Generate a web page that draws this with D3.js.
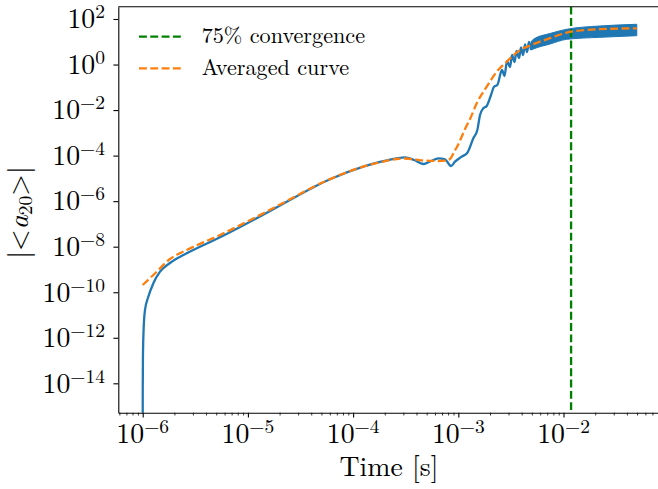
<!DOCTYPE html>
<html>
<head>
<meta charset="utf-8">
<script src="https://cdn.jsdelivr.net/npm/d3@7/dist/d3.min.js"></script>
<style>
  body { margin: 0; background: #fff; }
  svg { display: block; }
</style>
</head>
<body>
<div id="chart"></div>
<script>
// raw signal |<a20>| against time [s]
var blueTime = [1.0e-6, 1.0002e-6, 1.001e-6, 1.005e-6, 1.02e-6, 1.05e-6, 1.13e-6, 1.262e-6, 1.46e-6, 1.817e-6,
  2.62e-6, 5.43e-6, 1.126e-5, 2.02e-5, 6.03e-5, 1.25e-4, 1.80e-4, 2.59e-4, 3.11e-4, 3.79e-4,
  4.65e-4, 5.50e-4, 6.46e-4, 7.48e-4, 8.52e-4, 9.30e-4, 1.077e-3, 1.218e-3, 1.389e-3, 1.516e-3,
  1.608e-3, 1.728e-3, 1.862e-3, 2.045e-3, 2.184e-3, 2.348e-3, 2.602e-3, 2.749e-3, 2.903e-3, 3.100e-3,
  3.240e-3, 3.421e-3, 3.574e-3, 3.776e-3, 3.945e-3, 4.121e-3, 4.305e-3, 4.498e-3, 4.699e-3, 4.909e-3];
var blueAmp = [1e-17, 2.5e-16, 6e-15, 1.4e-13, 2.3e-12, 1.6e-11, 6.3e-11, 2.47e-10, 7.98e-10, 1.92e-9,
  5.13e-9, 2.59e-8, 1.49e-7, 6.45e-7, 9.12e-6, 3.26e-5, 5.25e-5, 7.62e-5, 8.43e-5, 6.43e-5,
  4.28e-5, 5.81e-5, 7.62e-5, 6.89e-5, 3.50e-5, 5.41e-5, 8.97e-5, 1.34e-4, 5.77e-4, 1.33e-3,
  6.08e-3, 1.20e-2, 1.51e-2, 4.59e-2, 0.106, 0.126, 0.575, 0.314, 1.43, 0.78,
  2.62, 1.29, 3.93, 1.94, 5.6, 2.62, 7.59, 3.56, 9.77, 4.35];

// dense oscillation at late times: envelope of the raw signal
var bandTime = [4.909e-3, 5.16e-3, 7.45e-3, 1.07e-2, 2.22e-2, 4.97e-2];
var bandHigh = [9.77, 12.8, 23.1, 35.3, 49.3, 58.5];
var bandLow  = [4.35, 4.81, 7.98, 12.8, 15.7, 18.5];

// averaged curve
var avgTime = [1.0e-6, 1.262e-6, 1.817e-6, 2.62e-6, 5.43e-6, 1.126e-5, 2.02e-5, 6.03e-5, 1.25e-4, 1.80e-4,
  2.59e-4, 3.11e-4, 3.79e-4, 4.65e-4, 6.46e-4, 7.48e-4, 8.34e-4, 9.10e-4, 9.93e-4, 1.084e-3,
  1.183e-3, 1.292e-3, 1.496e-3, 1.862e-3, 2.32e-3, 2.88e-3, 3.86e-3, 4.81e-3, 6.92e-3, 1.18e-2,
  2.07e-2, 4.97e-2];
var avgAmp = [2.08e-10, 5.71e-10, 2.88e-9, 7.16e-9, 3.27e-8, 1.73e-7, 7.13e-7, 9.32e-6, 3.3e-5, 5.07e-5,
  7.11e-5, 7.48e-5, 6.89e-5, 6.11e-5, 5.81e-5, 5.98e-5, 7.11e-5, 1.44e-4, 2.92e-4, 7.28e-4,
  1.81e-3, 4.06e-3, 1.99e-2, 0.106, 0.485, 1.33, 4.35, 6.86, 12.8, 27.7,
  35.3, 39.1];

var convergenceTime = 0.0118;
var xTickExp = [-6, -5, -4, -3, -2, -1];
var yTickExp = [-14, -12, -10, -8, -6, -4, -2, 0, 2];
var legendLabels = ["75% convergence", "Averaged curve"];
var legendColors = ["green", "#ff7f0e"];

var serif = "'Latin Modern Roman', 'Liberation Serif', serif";
var width = 658, height = 489;
var plot = { left: 118.3, right: 662, top: 6.7, bottom: 412.7 };

var svg = d3.select("#chart").append("svg")
  .attr("width", width)
  .attr("height", height)
  .attr("font-family", serif);

var x = d3.scaleLog().domain([5.861e-7, 0.0863]).range([plot.left, plot.right]);
var y = d3.scaleLog().domain([5.12e-16, 346.7]).range([plot.bottom, plot.top]);

svg.append("clipPath").attr("id", "clip")
  .append("rect")
  .attr("x", plot.left).attr("y", plot.top)
  .attr("width", plot.right - plot.left).attr("height", plot.bottom - plot.top);

var g = svg.append("g").attr("clip-path", "url(#clip)");

var blue = "#1f77b4";

// raw curve
var line = d3.line()
  .curve(d3.curveMonotoneX)
  .x(function (d) { return x(d[0]); })
  .y(function (d) { return y(d[1]); });

g.append("path")
  .datum(d3.zip(blueTime, blueAmp))
  .attr("d", line)
  .attr("fill", "none")
  .attr("stroke", blue)
  .attr("stroke-width", 2.3)
  .attr("stroke-linejoin", "round");

var area = d3.area()
  .curve(d3.curveMonotoneX)
  .x(function (d) { return x(d[0]); })
  .y0(function (d) { return y(d[2]); })
  .y1(function (d) { return y(d[1]); });

g.append("path")
  .datum(d3.zip(bandTime, bandHigh, bandLow))
  .attr("d", area)
  .attr("fill", blue)
  .attr("stroke", blue)
  .attr("stroke-width", 1);

// convergence marker
g.append("line")
  .attr("x1", x(convergenceTime)).attr("x2", x(convergenceTime))
  .attr("y1", plot.top).attr("y2", plot.bottom)
  .attr("stroke", "green")
  .attr("stroke-width", 2.3)
  .attr("stroke-dasharray", "7.9,3.4");

// averaged curve
g.append("path")
  .datum(d3.zip(avgTime, avgAmp))
  .attr("d", line)
  .attr("fill", "none")
  .attr("stroke", "#ff7f0e")
  .attr("stroke-width", 2.3)
  .attr("stroke-dasharray", "7.9,3.4");

// axes
var xMajor = xTickExp.map(function (e) { return Math.pow(10, e); });
var xMinor = [];
for (var e = -7; e <= -2; e++) {
  for (var k = 2; k <= 9; k++) xMinor.push(k * Math.pow(10, e));
}
xMinor = xMinor.filter(function (v) { return v >= x.domain()[0] && v <= x.domain()[1]; });

svg.append("g")
  .attr("transform", "translate(0," + plot.bottom + ")")
  .call(d3.axisBottom(x).tickValues(xMinor).tickFormat("").tickSize(2.8).tickSizeOuter(0))
  .call(function (s) { s.select(".domain").remove(); s.selectAll("line").attr("stroke-width", 0.8); });

var xAxis = svg.append("g")
  .attr("transform", "translate(0," + plot.bottom + ")")
  .call(d3.axisBottom(x).tickValues(xMajor).tickFormat("").tickSize(4.9).tickSizeOuter(0));
xAxis.select(".domain").attr("stroke-width", 1.1);
xAxis.selectAll("line").attr("stroke-width", 1.1);

var yAxis = svg.append("g")
  .attr("transform", "translate(" + plot.left + ",0)")
  .call(d3.axisLeft(y).tickValues(yTickExp.map(function (e) { return Math.pow(10, e); }))
    .tickFormat("").tickSize(4.9).tickSizeOuter(0));
yAxis.select(".domain").attr("stroke-width", 1.1);
yAxis.selectAll("line").attr("stroke-width", 1.1);

svg.append("line")
  .attr("x1", plot.left).attr("x2", plot.right)
  .attr("y1", plot.top).attr("y2", plot.top)
  .attr("stroke", "#000").attr("stroke-width", 1.1);

function powerLabel(sel, exp) {
  sel.append("tspan").text("10");
  var s = exp < 0 ? "\u2212" + (-exp) : "" + exp;
  sel.append("tspan")
    .attr("dy", -10)
    .attr("font-size", 19.5)
    .text(s);
}

xTickExp.forEach(function (e) {
  var px = x(Math.pow(10, e));
  if (px > width) return;
  svg.append("text")
    .attr("x", px)
    .attr("y", plot.bottom + 30.6)
    .attr("text-anchor", "middle")
    .attr("font-family", serif)
    .attr("font-size", 27.8)
    .call(powerLabel, e);
});

yTickExp.forEach(function (e) {
  svg.append("text")
    .attr("x", 105)
    .attr("y", y(Math.pow(10, e)) + 9.3)
    .attr("text-anchor", "end")
    .attr("font-family", serif)
    .attr("font-size", 27.8)
    .call(powerLabel, e);
});

// axis titles
svg.append("text")
  .attr("x", 389)
  .attr("y", 476)
  .attr("text-anchor", "middle")
  .attr("font-family", serif)
  .attr("font-size", 27.8)
  .text("Time [s]");

var yl = svg.append("text")
  .attr("transform", "translate(28,212.5) rotate(-90)")
  .attr("text-anchor", "middle")
  .attr("font-family", serif)
  .attr("font-size", 27.8);
yl.append("tspan").text("|<");
yl.append("tspan").attr("font-style", "italic").text("a");
yl.append("tspan").attr("dy", 4.2).attr("font-size", 19.5).text("20");
yl.append("tspan").attr("dy", -4.2).text(">|");

// legend
legendLabels.forEach(function (lab, i) {
  var ly = 36.7 + i * 31.6;
  svg.append("line")
    .attr("x1", 139).attr("x2", 184)
    .attr("y1", ly).attr("y2", ly)
    .attr("stroke", legendColors[i])
    .attr("stroke-width", 2.3)
    .attr("stroke-dasharray", "7.9,3.4");
  svg.append("text")
    .attr("x", 201.7)
    .attr("y", ly + 6.5)
    .attr("font-family", serif)
    .attr("font-size", 22.2)
    .text(lab);
});
</script>
</body>
</html>
